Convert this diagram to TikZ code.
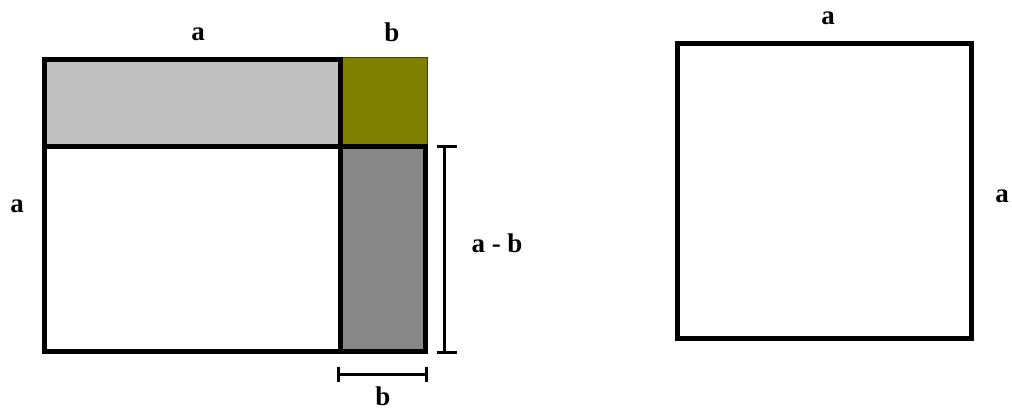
\documentclass[tikz,border=0pt]{standalone}
\usepackage{fontspec}
\setmainfont{Liberation Serif}
\definecolor{lgray}{HTML}{C0C0C0}
\definecolor{olivec}{HTML}{808000}
\definecolor{dgray}{HTML}{878787}
\begin{document}
\begin{tikzpicture}[x=1pt,y=-1pt,
  thickline/.style={line width=5pt,line join=miter},
  dimline/.style={line width=3pt},
  lbl/.style={font=\fontsize{27}{27}\selectfont\bfseries,anchor=base,inner sep=0pt}]
\useasboundingbox (0,0) rectangle (1012,409);
% fills
\fill[lgray] (44.5,59.5) rectangle (340,147);
\fill[dgray] (340,147) rectangle (425.5,351);
\draw[olivec!50!black,fill=olivec,line width=1.2pt] (340,57.6) rectangle (427.4,147);
% thick outlines
\draw[thickline] (44.5,59.5) rectangle (340,147);
\draw[thickline] (44.5,147) rectangle (340,351);
\draw[thickline] (340,147) rectangle (425.5,351);
\draw[thickline] (677.5,43.5) rectangle (971.5,338.5);
% dimension bars
\coordinate (vt) at (444.5,147);
\coordinate (vb) at (444.5,352);
\coordinate (vtl) at (437,147); \coordinate (vtr) at (457,147);
\coordinate (vbl) at (437,352); \coordinate (vbr) at (457,352);
\draw[dimline] (vt) -- (vb);
\draw[dimline] (vtl) -- (vtr);
\draw[dimline] (vbl) -- (vbr);
\coordinate (hl) at (338.5,374);
\coordinate (hr) at (426.5,374);
\coordinate (hlt) at (338.5,366.5); \coordinate (hlb) at (338.5,382);
\coordinate (hrt) at (426.5,366.5); \coordinate (hrb) at (426.5,382);
\draw[dimline] (hl) -- (hr);
\draw[dimline] (hlt) -- (hlb);
\draw[dimline] (hrt) -- (hrb);
% labels
\node[lbl] (ta) at (198,41) {a};
\node[lbl] (tb) at (392,42) {b};
\node[lbl] (la) at (17,212) {a};
\node[lbl] (amb) at (497,252) {a - b};
\node[lbl] (bb) at (383,405) {b};
\node[lbl] (ra) at (828,25) {a};
\node[lbl] (rr) at (1002,202) {a};
\end{tikzpicture}
\end{document}
